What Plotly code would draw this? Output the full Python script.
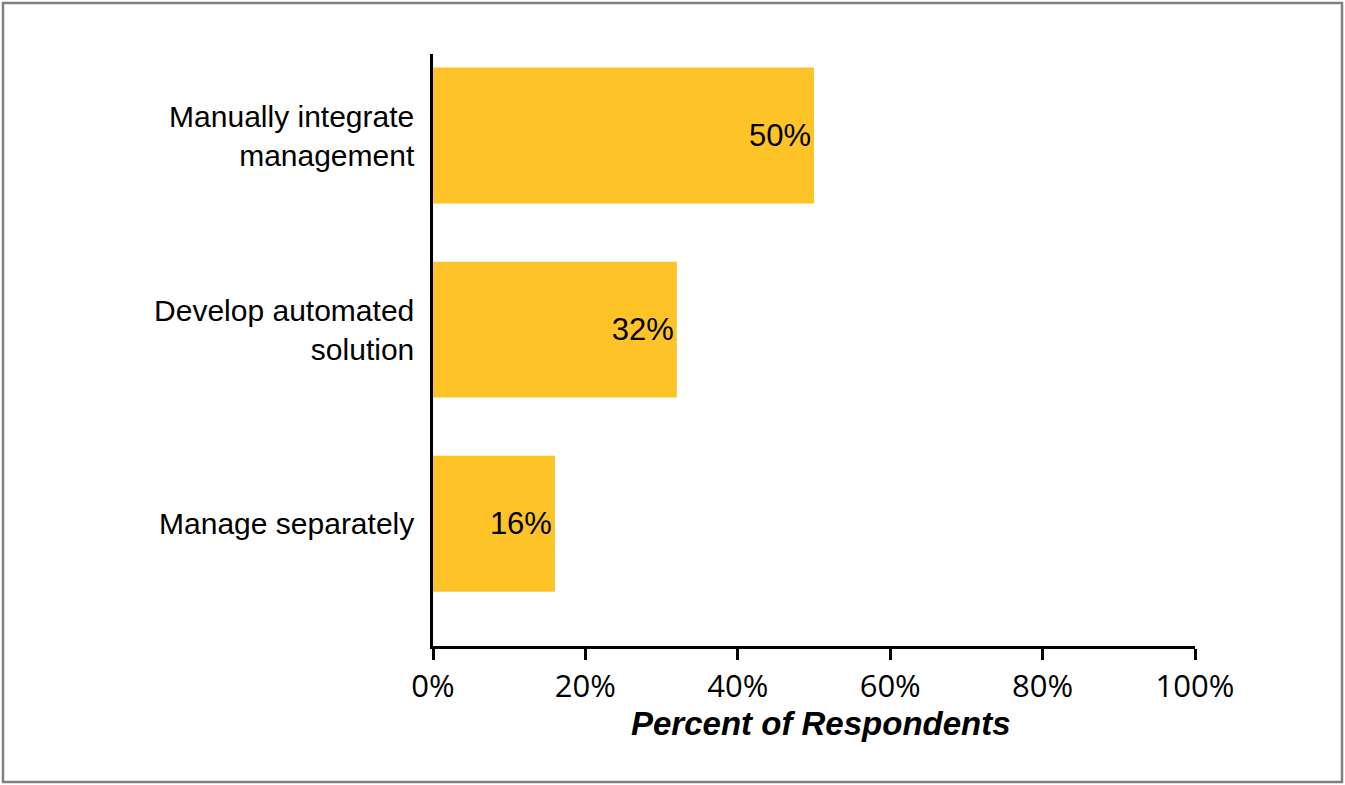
import plotly.graph_objects as go

categories = ["Manage separately", "Develop automated<br>solution", "Manually integrate<br>management"]
values = [16, 32, 50]
value_labels = ["16%", "32%", "50%"]
x_ticks = [0, 20, 40, 60, 80, 100]
x_tick_labels = ["0%", "20%", "40%", "60%", "80%", "100%"]
x_title = "Percent of Respondents"

W, H = 1345, 785
L, R, T, B = 433, 150, 54, 139
pw, ph = W - L - R, H - T - B

fig = go.Figure(go.Bar(
    x=values, y=categories, orientation="h",
    marker=dict(color="#FEC427", line=dict(width=0)),
    width=0.70,
    text=value_labels, textposition="inside", insidetextanchor="end",
    textangle=0, constraintext="none",
    textfont=dict(family="Liberation Sans, Arial", size=31, color="#000000"),
    hoverinfo="skip",
))

def px_x(p):
    return (p - L) / pw

def px_y(p):
    return 1 - (p - T) / ph

fig.update_layout(
    width=W, height=H,
    margin=dict(l=L, r=R, t=T, b=B, pad=0),
    paper_bgcolor="white", plot_bgcolor="white",
    showlegend=False,
    xaxis=dict(
        range=[0, 100], tickvals=x_ticks, ticktext=x_tick_labels,
        showgrid=False, zeroline=False,
        showline=True, linecolor="black", linewidth=2.5,
        ticks="outside", ticklen=11, tickwidth=2.5, tickcolor="black",
        tickfont=dict(family="Open Sans", size=31, color="#000000"),
    ),
    yaxis=dict(
        type="category", categoryorder="array", categoryarray=categories,
        range=[-0.63, 2.42],
        showgrid=False, zeroline=False,
        showline=True, linecolor="black", linewidth=2.5,
        ticks="", ticklabelstandoff=10,
        tickfont=dict(family="Liberation Sans, Arial", size=30, color="#000000"),
    ),
    annotations=[dict(
        text="<b><i>" + x_title + "</i></b>", showarrow=False,
        xref="paper", yref="paper", x=px_x(821), y=px_y(723),
        xanchor="center", yanchor="middle",
        font=dict(family="Liberation Sans, Arial", size=33, color="#000000"),
    )],
    shapes=[dict(
        type="rect", xref="paper", yref="paper",
        x0=px_x(3), x1=px_x(1342), y0=px_y(782), y1=px_y(3),
        line=dict(color="#808080", width=2.5), fillcolor="rgba(0,0,0,0)",
        layer="below",
    )],
)

fig.write_html("out.html", config={"displayModeBar": False},
               post_script="document.body.style.margin='0';document.body.style.overflow='hidden';")
